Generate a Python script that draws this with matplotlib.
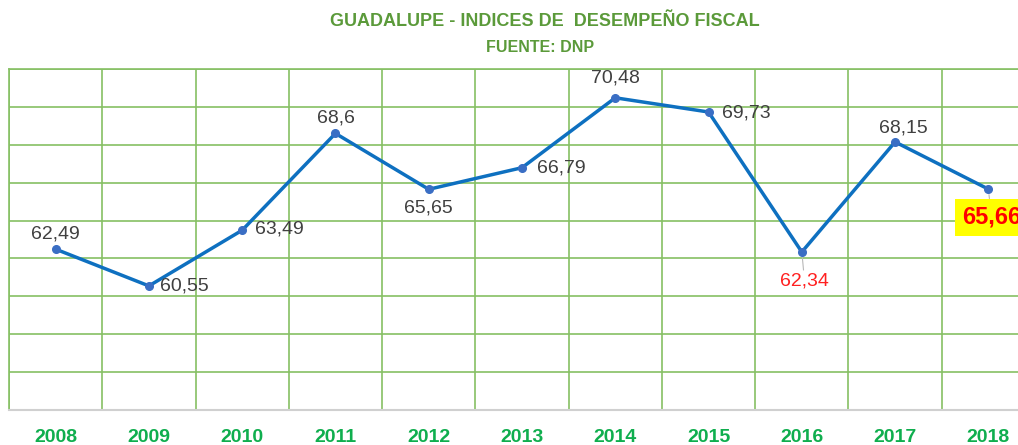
import matplotlib.pyplot as plt
import numpy as np

years = ['2008', '2009', '2010', '2011', '2012', '2013', '2014', '2015', '2016', '2017', '2018']
indices = [62.49, 60.55, 63.49, 68.6, 65.65, 66.79, 70.48, 69.73, 62.34, 68.15, 65.66]
labels = ['62,49', '60,55', '63,49', '68,6', '65,65', '66,79', '70,48', '69,73', '62,34', '68,15', '65,66']

# where each value label sits relative to its point (offset points)
label_pos = [(0, 5, 'center', 'bottom'), (8, 0, 'left', 'center'), (9, 1, 'left', 'center'),
             (0, 5, 'center', 'bottom'), (0, -7, 'center', 'top'), (11, 0, 'left', 'center'),
             (0, 8, 'center', 'bottom'), (10, -1, 'left', 'center'), (2, -15, 'center', 'top'),
             (6, 4, 'center', 'bottom'), (-19, -12, 'left', 'top')]

plt.rcParams['font.family'] = ['Liberation Sans', 'DejaVu Sans']

fig = plt.figure(figsize=(10.18, 4.45), dpi=100)
ax = fig.add_axes([9 / 1018, 35 / 445, 1026 / 1018, 341 / 445])

x = np.arange(len(years))
ax.plot(x, indices, '-', color='#0E70C0', linewidth=2.5, zorder=3)
ax.plot(x, indices, 'o', color='#3A6EC4', markersize=5.5, zorder=4)

ax.set_xlim(-0.5, len(years) - 0.5)
ax.set_ylim(54, 72)
ax.set_yticks(np.arange(54, 73, 2))
ax.set_xticks(np.arange(-0.5, len(years), 1))
ax.set_xticklabels([])
ax.tick_params(axis='both', length=0, labelleft=False)
ax.grid(True, color='#86C064', linewidth=1.2)
for s in ['top', 'right', 'left']:
    ax.spines[s].set_color('#86C064')
    ax.spines[s].set_linewidth(1.2)
ax.spines['bottom'].set_color('#D0D0D0')
ax.spines['bottom'].set_linewidth(1.5)

for i, y in enumerate(years):
    ax.text(i, -0.08, y, transform=ax.get_xaxis_transform(), ha='center', va='center',
            fontsize=14, fontweight='bold', color='#0FAE4E')

for i, (v, lab) in enumerate(zip(indices, labels)):
    dx, dy, ha, va = label_pos[i]
    if i == 8:
        ax.annotate(lab, (i, v), xytext=(dx, dy), textcoords='offset points', ha=ha, va=va,
                    fontsize=14, color='#FF2020',
                    arrowprops=dict(arrowstyle='-', color='#B8B8B8', lw=0.8, shrinkA=0, shrinkB=4))
    elif i == 10:
        ax.annotate(lab, (i, v), xytext=(dx, dy), textcoords='offset points', ha=ha, va=va,
                    fontsize=17, fontweight='bold', color='#FF0000',
                    bbox=dict(boxstyle='square,pad=0.3', fc='#FFFF00', ec='none'),
                    arrowprops=dict(arrowstyle='-', color='#B8B8B8', lw=0.8, shrinkA=0, shrinkB=4))
    else:
        ax.annotate(lab, (i, v), xytext=(dx, dy), textcoords='offset points', ha=ha, va=va,
                    fontsize=14, color='#404040')

fig.text(545 / 1018, 1 - 22 / 445, 'GUADALUPE - INDICES DE  DESEMPEÑO FISCAL', ha='center', va='center',
         fontsize=13, fontweight='bold', color='#5B9A3A')
fig.text(540 / 1018, 1 - 48 / 445, 'FUENTE: DNP', ha='center', va='center',
         fontsize=11.5, fontweight='bold', color='#5B9A3A')

fig.savefig('out.png', dpi=100)
